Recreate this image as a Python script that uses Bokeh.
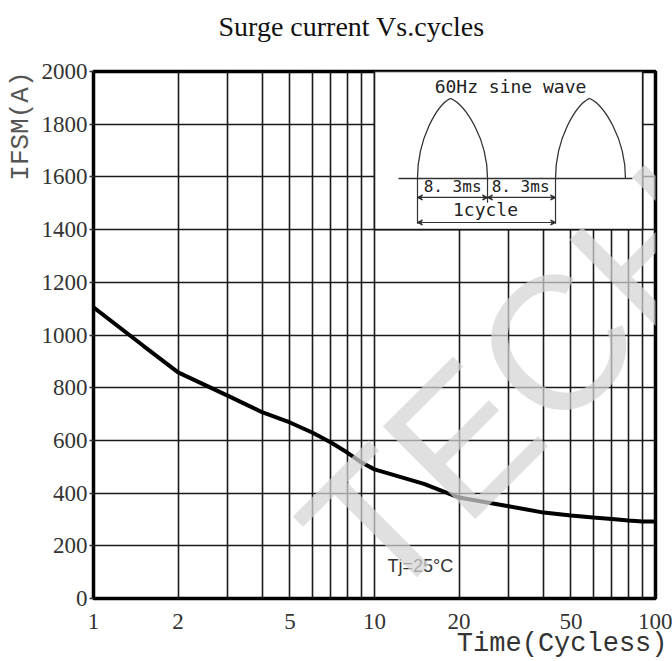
from bokeh.plotting import figure
from bokeh.models import (Range1d, LinearScale, FixedTicker, Label, Arrow,
                          VeeHead, NumeralTickFormatter, Title)
from bokeh.embed import file_html
from bokeh.resources import INLINE

# ---- data ----
cycles = [1, 1.5, 2, 3, 4, 5, 6, 7, 8, 9, 10, 15, 20, 30, 40, 50, 60, 70, 80, 90, 100]
ifsm = [1105, 960, 858, 770, 706, 668, 630, 592, 554, 516, 490, 435, 383, 350,
        326, 315, 307, 302, 296, 292, 292]
x_ticks = [1, 2, 5, 10, 20, 50, 100]
x_grid = [1, 2, 3, 4, 5, 6, 7, 8, 9, 10, 20, 30, 40, 50, 60, 70, 80, 90, 100]
y_ticks = [0, 200, 400, 600, 800, 1000, 1200, 1400, 1600, 1800, 2000]

title_text = "Surge current Vs.cycles"
x_label = "Time(Cycless)"
y_label = "IFSM(A)"
note_text = "Tj=25°C"
inset_title = "60Hz sine wave"
half_period_text = "8. 3ms"
cycle_text = "1cycle"
watermark = "TECH"

# inset box (log-x data units) and inset drawing (linear 0-100 overlay units)
box_x = (10, 90)
box_y = (1400, 2000)
arch_left = [57.65, 82.21]
arch_peak = [63.52, 88.26]
arch_right = [70.11, 94.66]
arch_base = 1594
arch_top = 1898
base_line_x = [54.27, 95.9]
dim_y1 = 1522
dim_y2 = 1427

W, H = 672, 661
p = figure(width=W, height=H, x_axis_type="log",
           x_range=Range1d(1, 100), y_range=Range1d(0, 2000),
           output_backend="svg", toolbar_location=None,
           min_border_left=93, min_border_right=W - 655,
           min_border_top=71, min_border_bottom=H - 598)
p.extra_x_ranges = {"lin": Range1d(0, 100)}
p.extra_x_scales = {"lin": LinearScale()}

p.background_fill_color = "white"
p.border_fill_color = "white"
p.outline_line_color = "black"
p.outline_line_width = 3.5

# grids
p.xgrid.ticker = FixedTicker(ticks=x_grid)
p.ygrid.ticker = FixedTicker(ticks=y_ticks)
for g in (p.xgrid, p.ygrid):
    g.grid_line_color = "#1a1a1a"
    g.grid_line_width = 1.6
    g.grid_line_alpha = 1.0

# axes
p.xaxis.ticker = FixedTicker(ticks=x_ticks)
p.xaxis.formatter = NumeralTickFormatter(format="0")
p.yaxis.ticker = FixedTicker(ticks=y_ticks)
for ax in (p.xaxis, p.yaxis):
    ax.axis_line_color = None
    ax.minor_tick_line_color = None
    ax.major_label_text_font = "Liberation Serif"
    ax.major_label_text_font_size = "23px"
    ax.major_label_text_color = "#333333"
p.xaxis.major_tick_line_color = None
p.xaxis.major_label_standoff = 9
p.yaxis.major_tick_out = 4
p.yaxis.major_tick_in = 0
p.yaxis.major_tick_line_color = "#333333"
p.yaxis.major_tick_line_width = 1.5
p.yaxis.major_label_standoff = 2

# white inset box hiding the grid
p.quad(left=[box_x[0]], right=[box_x[1]], bottom=[box_y[0]], top=[box_y[1]],
       fill_color="white", line_color="#1a1a1a", line_width=1.6)

# main curve
p.line(cycles, ifsm, line_color="black", line_width=4)

# inset drawing: two pointed half waves (cubic bezier per side)
ink = "#333333"
h = arch_top - arch_base
lcx0, lcx1, rcx0, rcx1 = [], [], [], []
for L, P, R in zip(arch_left, arch_peak, arch_right):
    lcx0.append(L)
    lcx1.append(L + 0.6 * (P - L))
    rcx0.append(R - 0.6 * (R - P))
    rcx1.append(R)
p.bezier(x0=arch_left, y0=[arch_base] * 2, x1=arch_peak, y1=[arch_top] * 2,
         cx0=lcx0, cy0=[arch_base + 0.5 * h] * 2,
         cx1=lcx1, cy1=[arch_base + 0.92 * h] * 2,
         x_range_name="lin", line_color=ink, line_width=1.3)
p.bezier(x0=arch_peak, y0=[arch_top] * 2, x1=arch_right, y1=[arch_base] * 2,
         cx0=rcx0, cy0=[arch_base + 0.92 * h] * 2,
         cx1=rcx1, cy1=[arch_base + 0.5 * h] * 2,
         x_range_name="lin", line_color=ink, line_width=1.3)
p.line(base_line_x, [arch_base] * 2, x_range_name="lin",
       line_color=ink, line_width=1.3)
p.segment(x0=[arch_left[0], arch_right[0], arch_left[1]],
          y0=[arch_base] * 3,
          x1=[arch_left[0], arch_right[0], arch_left[1]],
          y1=[dim_y2 - 5, dim_y1 - 20, dim_y2 - 5],
          x_range_name="lin", line_color=ink, line_width=1.2)

for xs, xe, yy in [(arch_left[0], arch_right[0], dim_y1),
                   (arch_right[0], arch_left[1], dim_y1),
                   (arch_left[0], arch_left[1], dim_y2)]:
    p.add_layout(Arrow(x_start=xs, y_start=yy, x_end=xe, y_end=yy,
                       x_range_name="lin", line_color=ink, line_width=1.2,
                       start=VeeHead(size=5, line_color=ink, line_width=1.2),
                       end=VeeHead(size=5, line_color=ink, line_width=1.2)))

mono = "DejaVu Sans Mono"
p.add_layout(Label(x=74.2, y=1943, x_range_name="lin", text=inset_title,
                   text_font=mono, text_font_size="18px", text_color="#222222",
                   text_align="center", text_baseline="middle"))
for cx in (63.9, 76.0):
    p.add_layout(Label(x=cx, y=dim_y1 + 6, x_range_name="lin",
                       text=half_period_text, text_font=mono,
                       text_font_size="16px", text_color="#222222",
                       text_align="center", text_baseline="bottom"))
p.add_layout(Label(x=69.75, y=1476, x_range_name="lin", text=cycle_text,
                   text_font=mono, text_font_size="18px", text_color="#222222",
                   text_align="center", text_baseline="middle"))

# temperature note
p.add_layout(Label(x=52.3, y=125, x_range_name="lin", text=note_text,
                   text_font="Liberation Sans", text_font_size="18px",
                   text_color="#333333", text_align="left",
                   text_baseline="middle"))

# watermark
p.add_layout(Label(x=75.6, y=820, x_range_name="lin", text=watermark,
                   angle=0.785398, text_font="Liberation Sans",
                   text_font_size="190px", text_color="#d4d4d4",
                   text_alpha=0.72, text_align="center",
                   text_baseline="middle", level="overlay"))

# title (with a blank spacer between it and the frame) and axis labels
p.add_layout(Title(text=" ", standoff=0, text_font_size="24px"), "above")
p.add_layout(Title(text=title_text, align="left", offset=125, standoff=2,
                   text_font="Liberation Serif", text_font_size="28px",
                   text_font_style="normal", text_color="#111111"), "above")
p.add_layout(Title(text=x_label, align="right", offset=-12, standoff=-10,
                   text_font="Liberation Mono", text_font_size="27px",
                   text_font_style="normal", text_color="#333333"), "below")
p.add_layout(Title(text=y_label, align="right", standoff=6,
                   text_font="Liberation Mono", text_font_size="26px",
                   text_font_style="normal", text_color="#555555"), "left")

open("out.html", "w").write(file_html(p, INLINE))
